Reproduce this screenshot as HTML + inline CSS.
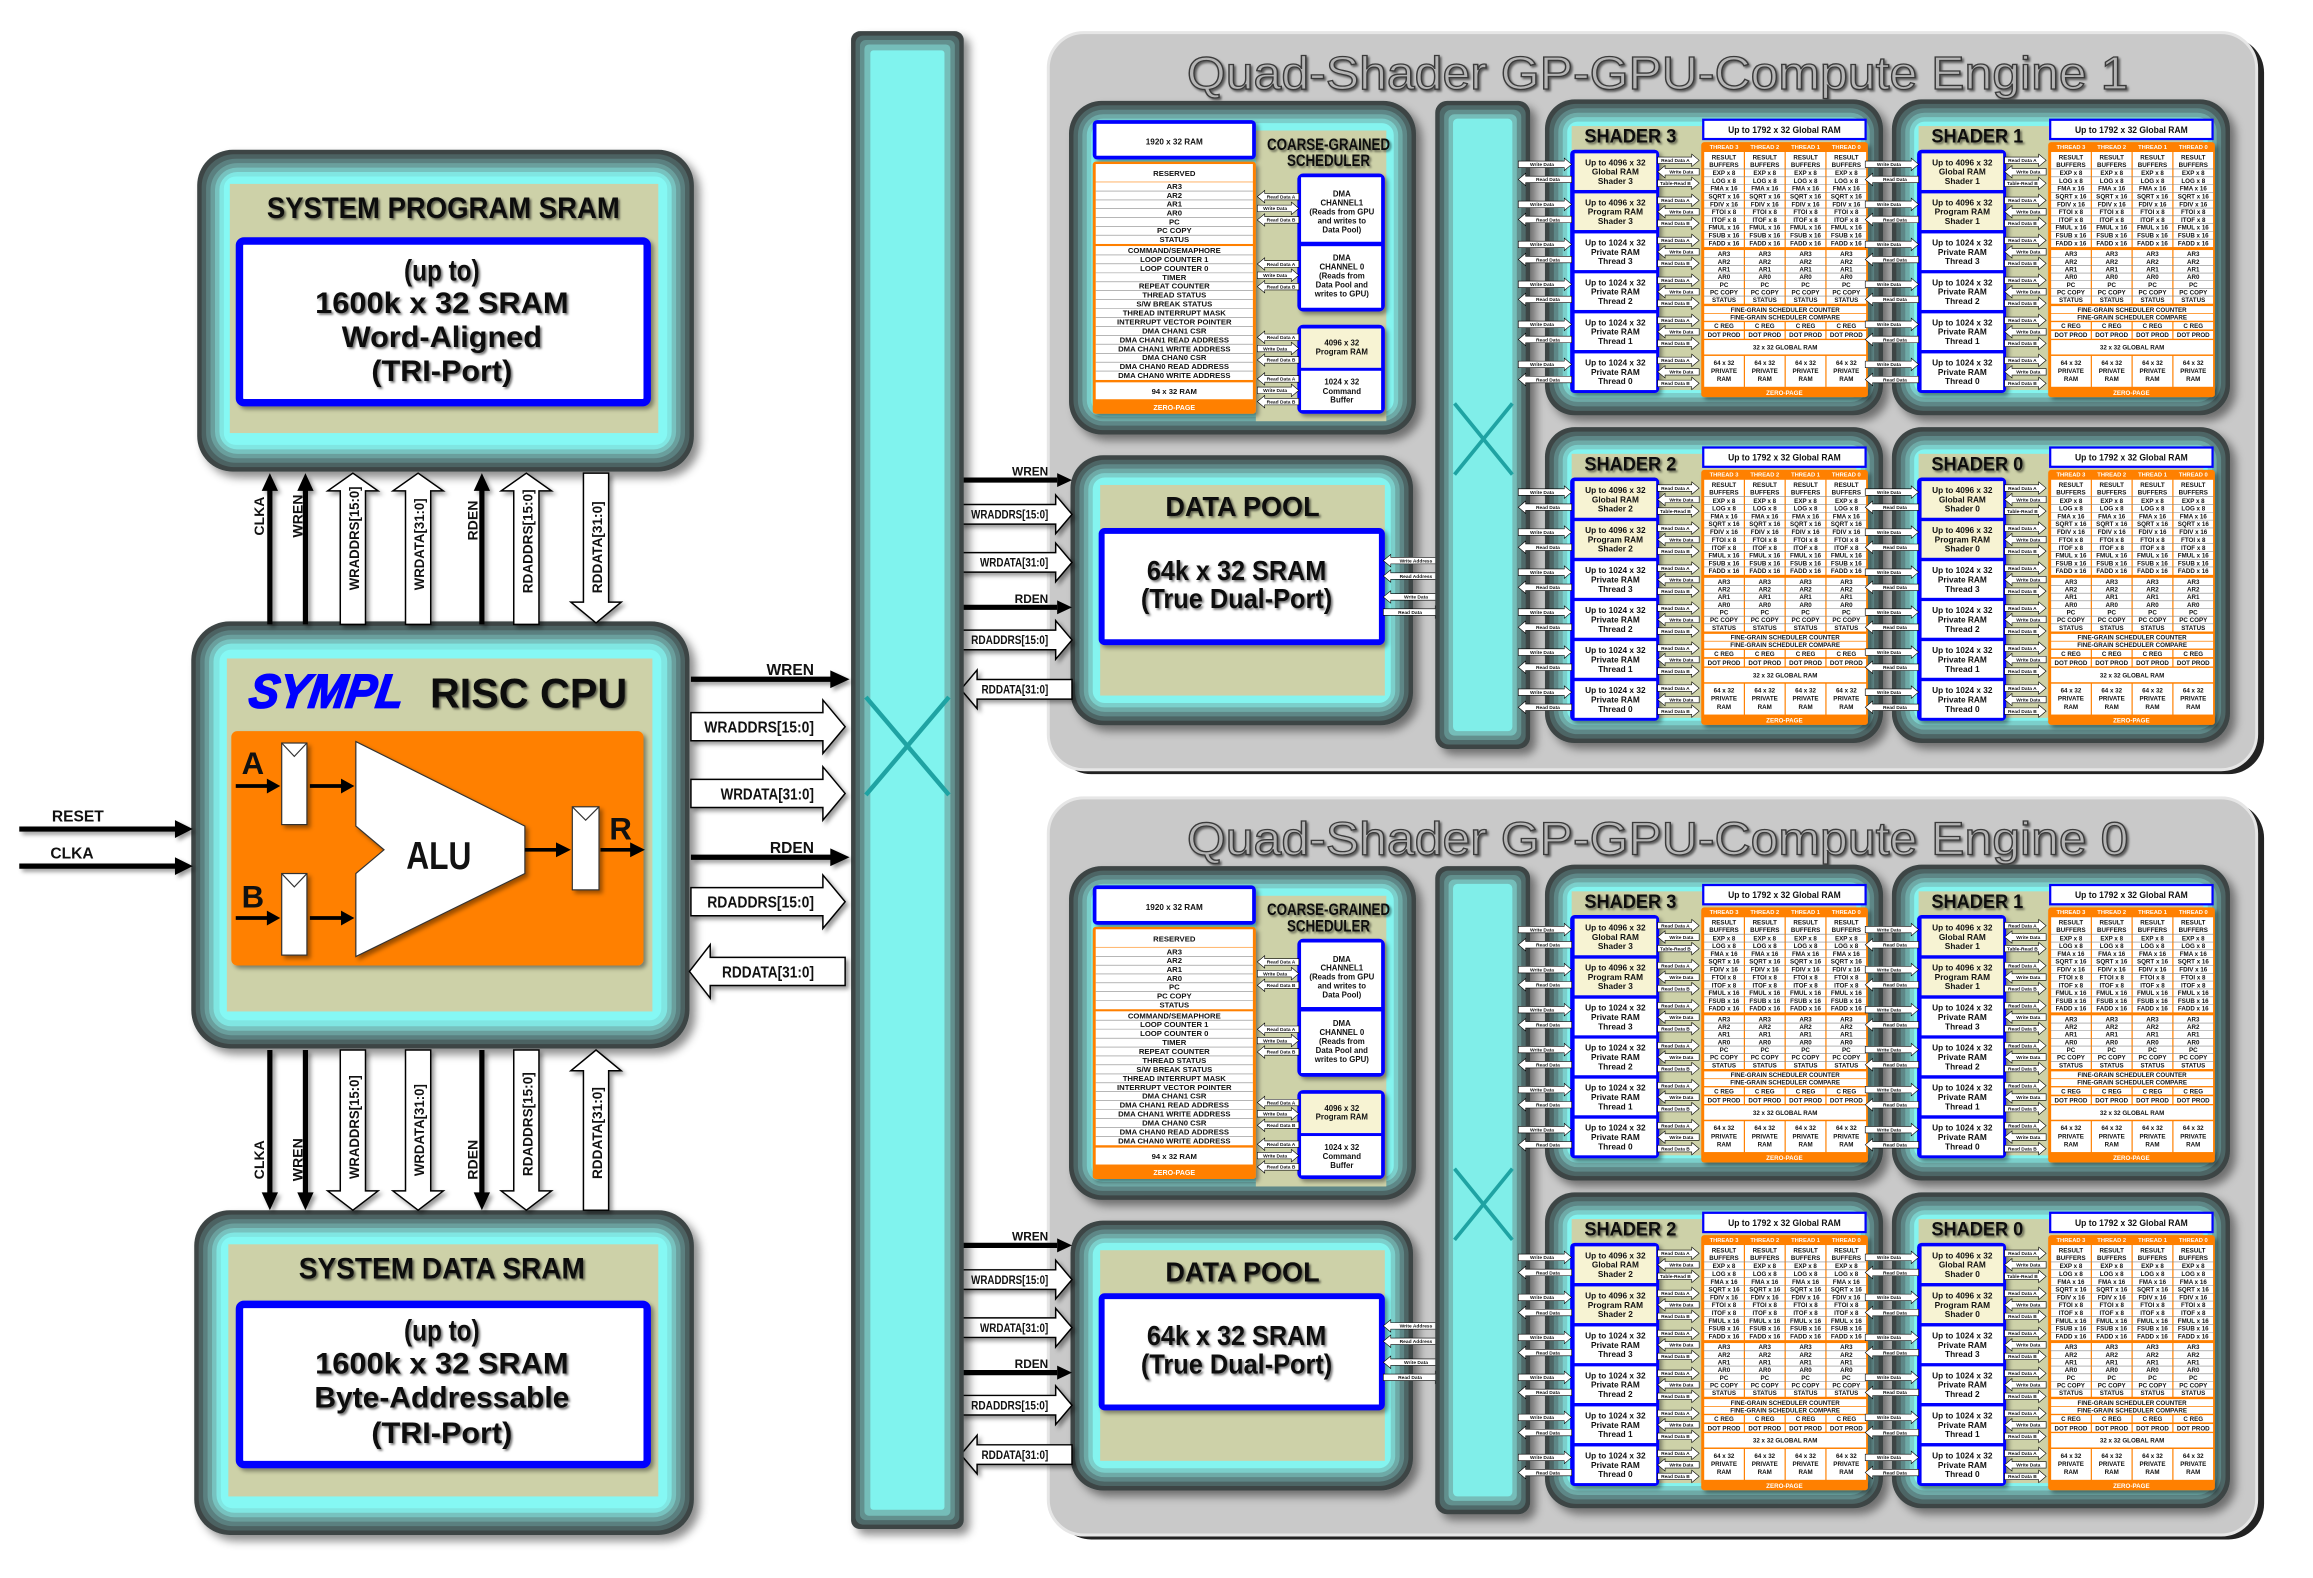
<!DOCTYPE html>
<html><head><meta charset="utf-8"><style>
html,body{margin:0;padding:0;background:#fff;}
svg{display:block}
.n{font-family:"Liberation Sans Narrow","Liberation Sans",sans-serif;font-weight:bold;fill:#111}
.s{font-family:"Liberation Sans",sans-serif;font-weight:bold;fill:#111}
.c{text-anchor:middle}
.e{text-anchor:end}
.t4{font-size:4.2px}
.aw{fill:#fff;stroke:#000;stroke-width:0.4}
.at{font-family:"Liberation Sans",sans-serif;font-weight:bold;font-size:3.3px;fill:#111;text-anchor:middle}
.hw{fill:#fff;stroke:#000;stroke-width:1}
.ln{stroke:#000;stroke-width:3.5;fill:none}
.rl{stroke:#8a8a8a;stroke-width:0.4;fill:none}
</style></head><body>
<svg xmlns="http://www.w3.org/2000/svg" xmlns:xlink="http://www.w3.org/1999/xlink" width="2313" height="1578" viewBox="0 0 1560 1064" preserveAspectRatio="none">
<defs>
<filter id="sh" x="-10%" y="-10%" width="130%" height="130%"><feDropShadow dx="4" dy="4" stdDeviation="3" flood-color="#000" flood-opacity="0.45"/></filter>
<filter id="ts" x="-10%" y="-30%" width="130%" height="160%"><feDropShadow dx="1.2" dy="1.2" stdDeviation="0.8" flood-color="#000" flood-opacity="0.55"/></filter>
<filter id="as" x="-10%" y="-30%" width="130%" height="160%"><feDropShadow dx="2" dy="2" stdDeviation="1.5" flood-color="#000" flood-opacity="0.4"/></filter>

<path id="pR28" class="aw" d="M0,-2.2H23V-4.2L28,0L23,4.2V2.2H0Z"/>
<path id="pL28" class="aw" d="M28,-2.2H5V-4.2L0,0L5,4.2V2.2H28Z"/>
<path id="pR36" class="aw" d="M0,-2.2H31V-4.2L36,0L31,4.2V2.2H0Z"/>
<path id="pL36" class="aw" d="M36,-2.2H5V-4.2L0,0L5,4.2V2.2H36Z"/>
<path id="pR40" class="aw" d="M0,-2.2H35V-4.2L40,0L35,4.2V2.2H0Z"/>
<path id="pL40" class="aw" d="M40,-2.2H5V-4.2L0,0L5,4.2V2.2H40Z"/>

<g id="R28_RDA"><use xlink:href="#pR28"/><text class="at" x="12" y="1.2">Read Data A</text></g>
<g id="R28_RDB"><use xlink:href="#pR28"/><text class="at" x="12" y="1.2">Read Data B</text></g>
<g id="R28_TRB"><use xlink:href="#pR28"/><text class="at" x="12" y="1.2">Table-Read B</text></g>
<g id="L28_WD"><use xlink:href="#pL28"/><text class="at" x="16" y="1.2">Write Data</text></g>
<g id="L28_RDA"><use xlink:href="#pL28"/><text class="at" x="16" y="1.2">Read Data A</text></g>
<g id="L28_RDB"><use xlink:href="#pL28"/><text class="at" x="16" y="1.2">Read Data B</text></g>
<g id="R28_WD"><use xlink:href="#pR28"/><text class="at" x="12" y="1.2">Write Data</text></g>
<g id="R36_WD"><use xlink:href="#pR36"/><text class="at" x="16" y="1.2">Write Data</text></g>
<g id="L36_RD"><use xlink:href="#pL36"/><text class="at" x="20" y="1.2">Read Data</text></g>
<g id="R40_WA"><use xlink:href="#pR40"/><text class="at" x="18" y="1.2">Write Address</text></g>
<g id="R40_RA"><use xlink:href="#pR40"/><text class="at" x="18" y="1.2">Read Address</text></g>
<g id="R40_WD"><use xlink:href="#pR40"/><text class="at" x="18" y="1.2">Write Data</text></g>
<g id="R40_RD"><use xlink:href="#pR40"/><text class="at" x="18" y="1.2">Read Data</text></g>
<g id="L40_RD"><use xlink:href="#pL40"/><text class="at" x="22" y="1.2">Read Data</text></g>
<g id="L40_WD"><use xlink:href="#pL40"/><text class="at" x="22" y="1.2">Write Data</text></g>
<g id="L40_WA"><use xlink:href="#pL40"/><text class="at" x="22" y="1.2">Write Address</text></g>
<g id="L40_RA"><use xlink:href="#pL40"/><text class="at" x="22" y="1.2">Read Address</text></g>

<g id="shader">
<rect x="0" y="0" width="228" height="213" rx="20" fill="#3c4545" filter="url(#sh)"/>
<rect x="3" y="3" width="222" height="207" rx="18" fill="#4d6565"/>
<rect x="6" y="6" width="216" height="201" rx="16" fill="#5e8787"/>
<rect x="9" y="9" width="210" height="195" rx="13" fill="#6eaaa7"/>
<rect x="12" y="12" width="204" height="189" rx="10" fill="#7bcfcb"/>
<rect x="15" y="15" width="198" height="183" rx="7" fill="#84f4ef"/>
<rect x="18" y="18" width="192" height="178" fill="#cdd1a8"/>
<rect x="17" y="34" width="60" height="164" rx="3" fill="#0000ff" filter="url(#as)"/>
<rect x="20" y="36.4" width="55" height="24.7" fill="#f7f3d3"/>
<rect x="20" y="63.4" width="55" height="24.7" fill="#f7f3d3"/>
<rect x="20" y="90.4" width="55" height="24.7" fill="#fff"/>
<rect x="20" y="117.3" width="55" height="24.7" fill="#fff"/>
<rect x="20" y="144.3" width="55" height="24.7" fill="#fff"/>
<rect x="20" y="171.3" width="55" height="24.7" fill="#fff"/>
<g class="n c" font-size="5.6">
<text x="47.5" y="44.5">Up to 4096 x 32</text><text x="47.5" y="50.8">Global RAM</text>
<text x="47.5" y="71.5">Up to 4096 x 32</text><text x="47.5" y="77.8">Program RAM</text>
<text x="47.5" y="98.5">Up to 1024 x 32</text><text x="47.5" y="104.8">Private RAM</text><text x="47.5" y="111.1">Thread 3</text>
<text x="47.5" y="125.4">Up to 1024 x 32</text><text x="47.5" y="131.7">Private RAM</text><text x="47.5" y="138">Thread 2</text>
<text x="47.5" y="152.4">Up to 1024 x 32</text><text x="47.5" y="158.7">Private RAM</text><text x="47.5" y="165">Thread 1</text>
<text x="47.5" y="179.4">Up to 1024 x 32</text><text x="47.5" y="185.7">Private RAM</text><text x="47.5" y="192">Thread 0</text>
</g>
<use xlink:href="#R28_RDA" x="76" y="41.1"/><use xlink:href="#L28_WD" x="76" y="48.8"/><use xlink:href="#R28_TRB" x="76" y="56.6"/>
<use xlink:href="#R28_RDA" x="76" y="68.1"/><use xlink:href="#L28_WD" x="76" y="75.8"/><use xlink:href="#R28_RDB" x="76" y="83.6"/>
<use xlink:href="#R28_RDA" x="76" y="95.1"/><use xlink:href="#L28_WD" x="76" y="102.8"/><use xlink:href="#R28_RDB" x="76" y="110.6"/>
<use xlink:href="#R28_RDA" x="76" y="122"/><use xlink:href="#L28_WD" x="76" y="129.7"/><use xlink:href="#R28_RDB" x="76" y="137.5"/>
<use xlink:href="#R28_RDA" x="76" y="149"/><use xlink:href="#L28_WD" x="76" y="156.7"/><use xlink:href="#R28_RDB" x="76" y="164.5"/>
<use xlink:href="#R28_RDA" x="76" y="176"/><use xlink:href="#L28_WD" x="76" y="183.7"/><use xlink:href="#R28_RDB" x="76" y="191.5"/>
<use xlink:href="#R36_WD" x="-18" y="43.8"/><use xlink:href="#L36_RD" x="-18" y="54"/>
<use xlink:href="#R36_WD" x="-18" y="70.8"/><use xlink:href="#L36_RD" x="-18" y="81"/>
<use xlink:href="#R36_WD" x="-18" y="97.8"/><use xlink:href="#L36_RD" x="-18" y="108"/>
<use xlink:href="#R36_WD" x="-18" y="124.7"/><use xlink:href="#L36_RD" x="-18" y="134.9"/>
<use xlink:href="#R36_WD" x="-18" y="151.7"/><use xlink:href="#L36_RD" x="-18" y="161.9"/>
<use xlink:href="#R36_WD" x="-18" y="178.7"/><use xlink:href="#L36_RD" x="-18" y="188.9"/>
<rect x="106" y="13" width="111" height="14.5" fill="#0000ff"/>
<rect x="107.5" y="14.5" width="108" height="11.5" fill="#fff"/>
<text class="n c" x="161.5" y="22.6" font-size="6" textLength="76" lengthAdjust="spacingAndGlyphs">Up to 1792 x 32 Global RAM</text>
<rect x="105.4" y="28.8" width="112.4" height="172" rx="2" fill="#ff8000" filter="url(#as)"/>
<text class="s c" y="33.4" font-size="3.9" style="fill:#fff"><tspan x="120.75">THREAD 3</tspan><tspan x="148.25">THREAD 2</tspan><tspan x="175.75">THREAD 1</tspan><tspan x="203.25">THREAD 0</tspan></text>
<g fill="#fff">
<rect x="107.4" y="35.5" width="26.7" height="64.1"/><rect x="134.9" y="35.5" width="26.7" height="64.1"/><rect x="162.4" y="35.5" width="26.7" height="64.1"/><rect x="189.9" y="35.5" width="26.7" height="64.1"/>
<rect x="107.4" y="101.6" width="26.7" height="36.2"/><rect x="134.9" y="101.6" width="26.7" height="36.2"/><rect x="162.4" y="101.6" width="26.7" height="36.2"/><rect x="189.9" y="101.6" width="26.7" height="36.2"/>
<rect x="107.4" y="139.4" width="109.2" height="4.7"/><rect x="107.4" y="144.6" width="109.2" height="4.7"/>
<rect x="107.4" y="150.2" width="26.7" height="4.9"/><rect x="134.9" y="150.2" width="26.7" height="4.9"/><rect x="162.4" y="150.2" width="26.7" height="4.9"/><rect x="189.9" y="150.2" width="26.7" height="4.9"/>
<rect x="107.4" y="156.2" width="26.7" height="5.2"/><rect x="134.9" y="156.2" width="26.7" height="5.2"/><rect x="162.4" y="156.2" width="26.7" height="5.2"/><rect x="189.9" y="156.2" width="26.7" height="5.2"/>
<rect x="107.4" y="162.3" width="109.2" height="9.7"/>
<rect x="107.4" y="173" width="26.7" height="20.8"/><rect x="134.9" y="173" width="26.7" height="20.8"/><rect x="162.4" y="173" width="26.7" height="20.8"/><rect x="189.9" y="173" width="26.7" height="20.8"/>
</g>
<path class="rl" d="M107 46.9H217M107 52.2H217M107 57.4H217M107 62.7H217M107 68H217M107 73.3H217M107 78.5H217M107 83.8H217M107 89.1H217M107 94.3H217M107 106.8H217M107 112H217M107 117.1H217M107 122.3H217M107 127.5H217M107 132.6H217"/>
<g class="s c t4">
<text y="40.5"><tspan x="120.75">RESULT</tspan><tspan x="148.25">RESULT</tspan><tspan x="175.75">RESULT</tspan><tspan x="203.25">RESULT</tspan></text>
<text y="45.5"><tspan x="120.75">BUFFERS</tspan><tspan x="148.25">BUFFERS</tspan><tspan x="175.75">BUFFERS</tspan><tspan x="203.25">BUFFERS</tspan></text>
<text y="51"><tspan x="120.75">EXP x 8</tspan><tspan x="148.25">EXP x 8</tspan><tspan x="175.75">EXP x 8</tspan><tspan x="203.25">EXP x 8</tspan></text>
<text y="56.3"><tspan x="120.75">LOG x 8</tspan><tspan x="148.25">LOG x 8</tspan><tspan x="175.75">LOG x 8</tspan><tspan x="203.25">LOG x 8</tspan></text>
<text y="61.6"><tspan x="120.75">FMA x 16</tspan><tspan x="148.25">FMA x 16</tspan><tspan x="175.75">FMA x 16</tspan><tspan x="203.25">FMA x 16</tspan></text>
<text y="66.8"><tspan x="120.75">SQRT x 16</tspan><tspan x="148.25">SQRT x 16</tspan><tspan x="175.75">SQRT x 16</tspan><tspan x="203.25">SQRT x 16</tspan></text>
<text y="72.1"><tspan x="120.75">FDIV x 16</tspan><tspan x="148.25">FDIV x 16</tspan><tspan x="175.75">FDIV x 16</tspan><tspan x="203.25">FDIV x 16</tspan></text>
<text y="77.4"><tspan x="120.75">FTOI x 8</tspan><tspan x="148.25">FTOI x 8</tspan><tspan x="175.75">FTOI x 8</tspan><tspan x="203.25">FTOI x 8</tspan></text>
<text y="82.7"><tspan x="120.75">ITOF x 8</tspan><tspan x="148.25">ITOF x 8</tspan><tspan x="175.75">ITOF x 8</tspan><tspan x="203.25">ITOF x 8</tspan></text>
<text y="87.9"><tspan x="120.75">FMUL x 16</tspan><tspan x="148.25">FMUL x 16</tspan><tspan x="175.75">FMUL x 16</tspan><tspan x="203.25">FMUL x 16</tspan></text>
<text y="93.2"><tspan x="120.75">FSUB x 16</tspan><tspan x="148.25">FSUB x 16</tspan><tspan x="175.75">FSUB x 16</tspan><tspan x="203.25">FSUB x 16</tspan></text>
<text y="98.5"><tspan x="120.75">FADD x 16</tspan><tspan x="148.25">FADD x 16</tspan><tspan x="175.75">FADD x 16</tspan><tspan x="203.25">FADD x 16</tspan></text>
<text y="105.7"><tspan x="120.75">AR3</tspan><tspan x="148.25">AR3</tspan><tspan x="175.75">AR3</tspan><tspan x="203.25">AR3</tspan></text>
<text y="110.9"><tspan x="120.75">AR2</tspan><tspan x="148.25">AR2</tspan><tspan x="175.75">AR2</tspan><tspan x="203.25">AR2</tspan></text>
<text y="116"><tspan x="120.75">AR1</tspan><tspan x="148.25">AR1</tspan><tspan x="175.75">AR1</tspan><tspan x="203.25">AR1</tspan></text>
<text y="121.2"><tspan x="120.75">AR0</tspan><tspan x="148.25">AR0</tspan><tspan x="175.75">AR0</tspan><tspan x="203.25">AR0</tspan></text>
<text y="126.4"><tspan x="120.75">PC</tspan><tspan x="148.25">PC</tspan><tspan x="175.75">PC</tspan><tspan x="203.25">PC</tspan></text>
<text y="131.5"><tspan x="120.75">PC COPY</tspan><tspan x="148.25">PC COPY</tspan><tspan x="175.75">PC COPY</tspan><tspan x="203.25">PC COPY</tspan></text>
<text y="136.7"><tspan x="120.75">STATUS</tspan><tspan x="148.25">STATUS</tspan><tspan x="175.75">STATUS</tspan><tspan x="203.25">STATUS</tspan></text>
<text x="162" y="143.3">FINE-GRAIN SCHEDULER COUNTER</text>
<text x="162" y="148.4">FINE-GRAIN SCHEDULER COMPARE</text>
<text y="154.3"><tspan x="120.75">C REG</tspan><tspan x="148.25">C REG</tspan><tspan x="175.75">C REG</tspan><tspan x="203.25">C REG</tspan></text>
<text y="160.4"><tspan x="120.75">DOT PROD</tspan><tspan x="148.25">DOT PROD</tspan><tspan x="175.75">DOT PROD</tspan><tspan x="203.25">DOT PROD</tspan></text>
<text x="162" y="168.8">32 x 32 GLOBAL RAM</text>
<text y="179"><tspan x="120.75">64 x 32</tspan><tspan x="148.25">64 x 32</tspan><tspan x="175.75">64 x 32</tspan><tspan x="203.25">64 x 32</tspan></text>
<text y="184.5"><tspan x="120.75">PRIVATE</tspan><tspan x="148.25">PRIVATE</tspan><tspan x="175.75">PRIVATE</tspan><tspan x="203.25">PRIVATE</tspan></text>
<text y="190"><tspan x="120.75">RAM</tspan><tspan x="148.25">RAM</tspan><tspan x="175.75">RAM</tspan><tspan x="203.25">RAM</tspan></text>
</g>
<text class="s c" x="161.5" y="199.3" font-size="4.2" style="fill:#fff">ZERO-PAGE</text>
</g>

<g id="eng">
<rect x="721" y="68" width="234" height="225" rx="22" fill="#3c4545" filter="url(#sh)"/>
<rect x="724" y="71" width="228" height="219" rx="20" fill="#4d6565"/>
<rect x="727" y="74" width="222" height="213" rx="17" fill="#5e8787"/>
<rect x="730" y="77" width="216" height="207" rx="14" fill="#6eaaa7"/>
<rect x="733" y="80" width="210" height="201" rx="11" fill="#7bcfcb"/>
<rect x="736" y="83" width="204" height="195" rx="8" fill="#84f4ef"/>
<rect x="847" y="88" width="88" height="196" fill="#cdd1a8"/>
<rect x="737" y="81" width="110" height="26.5" rx="3" fill="#0000ff" filter="url(#as)"/>
<rect x="739.5" y="83.5" width="105" height="21.5" fill="#fff"/>
<text class="s c" x="792" y="97.5" font-size="5.5">1920 x 32 RAM</text>
<rect x="737" y="109" width="110" height="170" rx="2" fill="#ff8000" filter="url(#as)"/>
<g fill="#fff">
<rect x="739" y="110.6" width="106" height="11.9"/>
<rect x="739" y="122.9" width="106" height="41.6"/>
<rect x="739" y="165.9" width="106" height="90.3"/>
<rect x="739" y="257.8" width="106" height="11.4"/>
</g>
<path class="rl" d="M739 128.8H845M739 134.8H845M739 140.7H845M739 146.7H845M739 152.6H845M739 158.6H845M739 171.9H845M739 177.9H845M739 184H845M739 190H845M739 196H845M739 202H845M739 208.1H845M739 214.1H845M739 220.1H845M739 226.1H845M739 232.1H845M739 238.2H845M739 244.2H845M739 250.2H845"/>
<g class="s c" font-size="5.2">
<text x="792" y="118.8">RESERVED</text>
<text x="792" y="127.5">AR3</text><text x="792" y="133.4">AR2</text><text x="792" y="139.4">AR1</text><text x="792" y="145.3">AR0</text><text x="792" y="151.3">PC</text><text x="792" y="157.2">PC COPY</text><text x="792" y="163.2">STATUS</text>
<text x="792" y="170.6">COMMAND/SEMAPHORE</text><text x="792" y="176.6">LOOP COUNTER 1</text><text x="792" y="182.6">LOOP COUNTER 0</text><text x="792" y="188.7">TIMER</text><text x="792" y="194.7">REPEAT COUNTER</text><text x="792" y="200.7">THREAD STATUS</text><text x="792" y="206.7">S/W BREAK STATUS</text><text x="792" y="212.8">THREAD INTERRUPT MASK</text><text x="792" y="218.8">INTERRUPT VECTOR POINTER</text><text x="792" y="224.8">DMA CHAN1 CSR</text><text x="792" y="230.8">DMA CHAN1 READ ADDRESS</text><text x="792" y="236.9">DMA CHAN1 WRITE ADDRESS</text><text x="792" y="242.9">DMA CHAN0 CSR</text><text x="792" y="248.9">DMA CHAN0 READ ADDRESS</text><text x="792" y="254.9">DMA CHAN0 WRITE ADDRESS</text>
<text x="792" y="265.5">94 x 32 RAM</text>
</g>
<text class="s c" x="792" y="276.3" font-size="4.8" style="fill:#fff">ZERO-PAGE</text>
<text class="n c" x="896" y="101" font-size="11" textLength="83" lengthAdjust="spacingAndGlyphs" filter="url(#ts)">COARSE-GRAINED</text>
<text class="n c" x="896" y="112" font-size="11" textLength="56" lengthAdjust="spacingAndGlyphs" filter="url(#ts)">SCHEDULER</text>
<rect x="875" y="117" width="59" height="93" rx="4" fill="#0000ff" filter="url(#as)"/>
<rect x="877.5" y="119.5" width="54" height="43.5" fill="#fff"/>
<rect x="877.5" y="166" width="54" height="41.5" fill="#fff"/>
<rect x="875" y="219" width="59" height="60" rx="4" fill="#0000ff" filter="url(#as)"/>
<rect x="877.5" y="221.5" width="54" height="26.5" fill="#f7f3d3"/>
<rect x="877.5" y="250" width="54" height="26.5" fill="#fff"/>
<g class="s c" font-size="5.3">
<text x="905" y="132.5">DMA</text><text x="905" y="138.5">CHANNEL1</text><text x="905" y="144.6">(Reads from GPU</text><text x="905" y="150.6">and writes to</text><text x="905" y="156.7">Data Pool)</text>
<text x="905" y="175.8">DMA</text><text x="905" y="181.8">CHANNEL 0</text><text x="905" y="187.9">(Reads from</text><text x="905" y="193.9">Data Pool and</text><text x="905" y="200">writes to GPU)</text>
<text x="905" y="233">4096 x 32</text><text x="905" y="239">Program RAM</text>
<text x="905" y="259.4">1024 x 32</text><text x="905" y="265.5">Command</text><text x="905" y="271.5">Buffer</text>
</g>
<use xlink:href="#L28_RDA" x="848" y="132.6"/><use xlink:href="#R28_WD" x="848" y="140.5"/><use xlink:href="#L28_RDB" x="848" y="148.3"/>
<use xlink:href="#L28_RDA" x="848" y="178"/><use xlink:href="#R28_WD" x="848" y="185.6"/><use xlink:href="#L28_RDB" x="848" y="193.3"/>
<use xlink:href="#L28_RDA" x="848" y="227.4"/><use xlink:href="#R28_WD" x="848" y="235"/><use xlink:href="#L28_RDB" x="848" y="242.7"/>
<use xlink:href="#L28_RDA" x="848" y="255.5"/><use xlink:href="#R28_WD" x="848" y="263.2"/><use xlink:href="#L28_RDB" x="848" y="270.8"/>

<rect x="722" y="307" width="231" height="182" rx="22" fill="#3c4545" filter="url(#sh)"/>
<rect x="725" y="310" width="225" height="176" rx="20" fill="#4d6565"/>
<rect x="728" y="313" width="219" height="170" rx="17" fill="#5e8787"/>
<rect x="731" y="316" width="213" height="164" rx="14" fill="#6eaaa7"/>
<rect x="734" y="319" width="207" height="158" rx="11" fill="#7bcfcb"/>
<rect x="737" y="322" width="201" height="152" rx="8" fill="#84f4ef"/>
<rect x="742" y="327" width="192" height="142" fill="#cdd1a8"/>
<text class="n c" x="838" y="348" font-size="19" textLength="104" lengthAdjust="spacingAndGlyphs" filter="url(#ts)">DATA POOL</text>
<rect x="743" y="358" width="189" height="75" rx="2" fill="#fff" stroke="#0000ff" stroke-width="4" filter="url(#as)"/>
<text class="n c" x="834" y="391" font-size="19" textLength="121" lengthAdjust="spacingAndGlyphs" filter="url(#ts)">64k x 32 SRAM</text>
<text class="n c" x="834" y="410" font-size="19" textLength="129" lengthAdjust="spacingAndGlyphs" filter="url(#ts)">(True Dual-Port)</text>
<use xlink:href="#L40_WA" x="933" y="378"/><use xlink:href="#L40_RA" x="933" y="388.4"/><use xlink:href="#L40_WD" x="933" y="402.5"/><use xlink:href="#R40_RD" x="933" y="412.7"/>

<path class="ln" d="M649 323.7H713" stroke-width="3"/><polygon points="713,319 723,323.7 713,328.4"/>
<text class="n e" x="707" y="320.5" font-size="8">WREN</text>
<path class="hw" filter="url(#as)" d="M648,340.2H712V333.8L723,346.8L712,359.8V353.4H648Z"/>
<text class="n e" x="707" y="349.7" font-size="8" textLength="52" lengthAdjust="spacingAndGlyphs">WRADDRS[15:0]</text>
<path class="hw" filter="url(#as)" d="M648,372.6H712V366.2L723,379.2L712,392.2V385.8H648Z"/>
<text class="n e" x="707" y="382.1" font-size="8" textLength="46" lengthAdjust="spacingAndGlyphs">WRDATA[31:0]</text>
<path class="ln" d="M649 409.5H713" stroke-width="3"/><polygon points="713,404.8 723,409.5 713,414.2"/>
<text class="n e" x="707" y="406.5" font-size="8">RDEN</text>
<path class="hw" filter="url(#as)" d="M648,424.9H712V418.5L723,431.5L712,444.5V438.1H648Z"/>
<text class="n e" x="707" y="434.4" font-size="8" textLength="52" lengthAdjust="spacingAndGlyphs">RDADDRS[15:0]</text>
<path class="hw" filter="url(#as)" d="M723,458.2H659V451.8L648,464.8L659,477.8V471.4H723Z"/>
<text class="n e" x="707" y="467.7" font-size="8" textLength="45" lengthAdjust="spacingAndGlyphs">RDDATA[31:0]</text>

<rect x="968" y="68" width="64" height="437" rx="8" fill="#3c4545" filter="url(#sh)"/>
<rect x="971" y="71" width="58" height="431" rx="6" fill="#4f6a6a"/>
<rect x="974" y="74" width="52" height="425" rx="5" fill="#62908e"/>
<rect x="977" y="77" width="46" height="419" rx="4" fill="#75bdb9"/>
<rect x="980" y="80" width="40" height="413" rx="3" fill="#80eee9"/>
<path d="M981,272L1020,320M1020,272L981,320" stroke="#1fa3a3" stroke-width="2.5"/>

<use xlink:href="#shader" transform="translate(1042,67)"/>
<use xlink:href="#shader" transform="translate(1276,67)"/>
<use xlink:href="#shader" transform="translate(1042,288)"/>
<use xlink:href="#shader" transform="translate(1276,288)"/>
<g class="n" font-size="13" filter="url(#ts)">
<text x="1068.6" y="96.2" textLength="62" lengthAdjust="spacingAndGlyphs">SHADER 3</text>
<text x="1302.6" y="96.2" textLength="62" lengthAdjust="spacingAndGlyphs">SHADER 1</text>
<text x="1068.6" y="317.2" textLength="62" lengthAdjust="spacingAndGlyphs">SHADER 2</text>
<text x="1302.6" y="317.2" textLength="62" lengthAdjust="spacingAndGlyphs">SHADER 0</text>
</g>
<g class="n c" font-size="5.6">
<text x="1089.5" y="124">Shader 3</text><text x="1089.5" y="151">Shader 3</text>
<text x="1323.5" y="124">Shader 1</text><text x="1323.5" y="151">Shader 1</text>
<text x="1089.5" y="345">Shader 2</text><text x="1089.5" y="372">Shader 2</text>
<text x="1323.5" y="345">Shader 0</text><text x="1323.5" y="372">Shader 0</text>
</g>
</g>
</defs>

<rect x="712" y="25" width="815" height="497" rx="24" fill="#222"/>
<rect x="707" y="22" width="815" height="497" rx="24" fill="#c9c9c9" stroke="#e6e6e6" stroke-width="2"/>
<rect x="712" y="541" width="815" height="497" rx="24" fill="#222"/>
<rect x="707" y="538" width="815" height="497" rx="24" fill="#c9c9c9" stroke="#e6e6e6" stroke-width="2"/>
<text x="1118" y="60" text-anchor="middle" font-family="Liberation Sans, sans-serif" font-size="31" fill="#b5b5b5" stroke="#3a3a3a" stroke-width="0.9" textLength="635" lengthAdjust="spacingAndGlyphs" filter="url(#ts)">Quad-Shader GP-GPU-Compute Engine 1</text>
<text x="1118" y="576" text-anchor="middle" font-family="Liberation Sans, sans-serif" font-size="31" fill="#b5b5b5" stroke="#3a3a3a" stroke-width="0.9" textLength="635" lengthAdjust="spacingAndGlyphs" filter="url(#ts)">Quad-Shader GP-GPU-Compute Engine 0</text>
<use xlink:href="#eng"/>
<use xlink:href="#eng" transform="translate(0,516)"/>

<rect x="574" y="21" width="76" height="1010" rx="6" fill="#3c4545" filter="url(#sh)"/>
<rect x="577" y="24" width="70" height="1004" rx="5" fill="#4f6a6a"/>
<rect x="580" y="27" width="64" height="998" rx="4" fill="#62908e"/>
<rect x="583" y="30" width="58" height="992" rx="3" fill="#75bdb9"/>
<rect x="587" y="34" width="50" height="984" rx="2" fill="#80f3ee"/>
<path d="M584,470L640,536M640,470L584,536" stroke="#1fa3a3" stroke-width="3"/>

<rect x="133" y="101" width="335" height="217" rx="24" fill="#3c4545" filter="url(#sh)"/>
<rect x="136" y="104" width="329" height="211" rx="22" fill="#4c6262"/>
<rect x="139" y="107" width="323" height="205" rx="20" fill="#5b8080"/>
<rect x="142" y="110" width="317" height="199" rx="18" fill="#6a9f9d"/>
<rect x="145" y="113" width="311" height="193" rx="15" fill="#77c2bf"/>
<rect x="148" y="116" width="305" height="187" rx="12" fill="#80e6e2"/>
<rect x="151" y="119" width="299" height="181" rx="8" fill="#85f8f4"/>
<rect x="155" y="124" width="289" height="168" fill="#cdd1a8"/>
<text class="n c" x="299" y="147" font-size="20" textLength="238" lengthAdjust="spacingAndGlyphs" filter="url(#ts)">SYSTEM PROGRAM SRAM</text>
<rect x="161.5" y="162.5" width="275" height="109" rx="3" fill="#fff" stroke="#0000ff" stroke-width="5" filter="url(#as)"/>
<g class="n c" font-size="20" filter="url(#ts)">
<text x="298" y="189" textLength="51" lengthAdjust="spacingAndGlyphs">(up to)</text>
<text x="298" y="211" textLength="171" lengthAdjust="spacingAndGlyphs">1600k x 32 SRAM</text>
<text x="298" y="234" textLength="135" lengthAdjust="spacingAndGlyphs">Word-Aligned</text>
<text x="298" y="257" textLength="95" lengthAdjust="spacingAndGlyphs">(TRI-Port)</text>
</g>

<rect x="129" y="419" width="336" height="288" rx="26" fill="#3c4545" filter="url(#sh)"/>
<rect x="132" y="422" width="330" height="282" rx="24" fill="#4c6262"/>
<rect x="135" y="425" width="324" height="276" rx="21" fill="#5b8080"/>
<rect x="138" y="428" width="318" height="270" rx="18" fill="#6a9f9d"/>
<rect x="141" y="431" width="312" height="264" rx="15" fill="#77c2bf"/>
<rect x="144" y="434" width="306" height="258" rx="12" fill="#80e6e2"/>
<rect x="148" y="438" width="298" height="250" rx="8" fill="#85f8f4"/>
<rect x="153" y="444" width="287" height="238" fill="#cdd1a8"/>
<text x="168" y="477" font-family="Liberation Sans, sans-serif" font-weight="bold" font-style="italic" font-size="32" fill="#0000ff" stroke="#0000ff" stroke-width="1.2" textLength="104" lengthAdjust="spacingAndGlyphs" transform="skewX(-8) translate(66,0)">SYMPL</text>
<text class="n" x="290" y="477" font-size="28" font-weight="normal" textLength="133" lengthAdjust="spacingAndGlyphs" filter="url(#ts)">RISC CPU</text>
<rect x="156" y="493" width="278" height="158" rx="4" fill="#ff8000" filter="url(#as)"/>
<polygon points="240,500 354,557 354,589 240,645 240,589 259,573 240,557" fill="#fff" stroke="#333" stroke-width="0.8" filter="url(#as)"/>
<text class="n c" x="296" y="586" font-size="26" textLength="44" lengthAdjust="spacingAndGlyphs">ALU</text>
<g fill="#fff" stroke="#333" stroke-width="0.8" filter="url(#as)">
<rect x="190" y="501" width="17" height="55"/><rect x="190" y="589" width="17" height="55"/><rect x="386" y="544" width="18" height="56"/>
</g>
<path d="M190,501L198.5,510L207,501M190,589L198.5,598L207,589M386,544L395,553L404,544" fill="none" stroke="#333" stroke-width="0.8"/>
<g stroke="#000" stroke-width="2.5">
<path d="M159,530H181M209,530H231M159,619H181M209,619H231M354,573H376M405,573H426"/>
</g>
<g fill="#000">
<polygon points="180,525 189,530 180,535"/><polygon points="230,525 239,530 230,535"/>
<polygon points="180,614 189,619 180,624"/><polygon points="230,614 239,619 230,624"/>
<polygon points="375,568 385,573 375,578"/><polygon points="425,568 435,573 425,578"/>
</g>
<g class="n" font-size="21">
<text x="163" y="522">A</text><text x="163" y="612">B</text><text x="411" y="566">R</text>
</g>

<rect x="131" y="816" width="337" height="219" rx="24" fill="#3c4545" filter="url(#sh)"/>
<rect x="134" y="819" width="331" height="213" rx="22" fill="#4c6262"/>
<rect x="137" y="822" width="325" height="207" rx="20" fill="#5b8080"/>
<rect x="140" y="825" width="319" height="201" rx="18" fill="#6a9f9d"/>
<rect x="143" y="828" width="313" height="195" rx="15" fill="#77c2bf"/>
<rect x="146" y="831" width="307" height="189" rx="12" fill="#80e6e2"/>
<rect x="149" y="834" width="301" height="183" rx="8" fill="#85f8f4"/>
<rect x="154" y="839" width="290" height="170" fill="#cdd1a8"/>
<text class="n c" x="298" y="862" font-size="20" textLength="193" lengthAdjust="spacingAndGlyphs" filter="url(#ts)">SYSTEM DATA SRAM</text>
<rect x="161.5" y="879.5" width="275" height="108" rx="3" fill="#fff" stroke="#0000ff" stroke-width="5" filter="url(#as)"/>
<g class="n c" font-size="20" filter="url(#ts)">
<text x="298" y="904" textLength="51" lengthAdjust="spacingAndGlyphs">(up to)</text>
<text x="298" y="926" textLength="171" lengthAdjust="spacingAndGlyphs">1600k x 32 SRAM</text>
<text x="298" y="949" textLength="172" lengthAdjust="spacingAndGlyphs">Byte-Addressable</text>
<text x="298" y="973" textLength="95" lengthAdjust="spacingAndGlyphs">(TRI-Port)</text>
</g>

<g filter="url(#as)">
<path class="ln" d="M182,421V330M206,421V330M325,421V330"/>
<polygon points="176.5,331 182,319 187.5,331"/><polygon points="200.5,331 206,319 211.5,331"/><polygon points="319.5,331 325,319 330.5,331"/>
<path class="hw" d="M229.5,421V331H221L238,319L255,331H246.5V421Z"/>
<path class="hw" d="M273.5,421V331H265L282,319L299,331H290.5V421Z"/>
<path class="hw" d="M346.5,421V331H338L355,319L372,331H363.5V421Z"/>
<path class="hw" d="M393.5,319V406H385L402,420L419,406H410.5V319Z"/>
</g>
<g class="s c" font-size="9.5">
<text transform="translate(178,348) rotate(-90)">CLKA</text>
<text transform="translate(204,348) rotate(-90)">WREN</text>
<text transform="translate(242,363) rotate(-90)" textLength="70" lengthAdjust="spacingAndGlyphs">WRADDRS[15:0]</text>
<text transform="translate(286,367) rotate(-90)" textLength="62" lengthAdjust="spacingAndGlyphs">WRDATA[31:0]</text>
<text transform="translate(322,351) rotate(-90)">RDEN</text>
<text transform="translate(359,365) rotate(-90)" textLength="70" lengthAdjust="spacingAndGlyphs">RDADDRS[15:0]</text>
<text transform="translate(406,369) rotate(-90)" textLength="62" lengthAdjust="spacingAndGlyphs">RDDATA[31:0]</text>
</g>

<g filter="url(#as)">
<path class="ln" d="M182,708V805M206,708V805M325,708V805"/>
<polygon points="176.5,804 182,816 187.5,804"/><polygon points="200.5,804 206,816 211.5,804"/><polygon points="319.5,804 325,816 330.5,804"/>
<path class="hw" d="M229.5,708V803H221L238,816L255,803H246.5V708Z"/>
<path class="hw" d="M273.5,708V803H265L282,816L299,803H290.5V708Z"/>
<path class="hw" d="M346.5,708V803H338L355,816L372,803H363.5V708Z"/>
<path class="hw" d="M393.5,816V722H385L402,708L419,722H410.5V816Z"/>
</g>
<g class="s c" font-size="9.5">
<text transform="translate(178,782) rotate(-90)">CLKA</text>
<text transform="translate(204,782) rotate(-90)">WREN</text>
<text transform="translate(242,760) rotate(-90)" textLength="70" lengthAdjust="spacingAndGlyphs">WRADDRS[15:0]</text>
<text transform="translate(286,762) rotate(-90)" textLength="62" lengthAdjust="spacingAndGlyphs">WRDATA[31:0]</text>
<text transform="translate(322,782) rotate(-90)">RDEN</text>
<text transform="translate(359,758) rotate(-90)" textLength="70" lengthAdjust="spacingAndGlyphs">RDADDRS[15:0]</text>
<text transform="translate(406,764) rotate(-90)" textLength="62" lengthAdjust="spacingAndGlyphs">RDDATA[31:0]</text>
</g>

<g filter="url(#as)">
<path class="ln" d="M466,458H561M466,578H561M13,559H119M13,584H119"/>
<polygon points="560,452 573,458 560,464"/><polygon points="560,572 573,578 560,584"/>
<polygon points="118,553 130,559 118,565"/><polygon points="118,578 130,584 118,590"/>
<path class="hw" d="M466,480.5H555V472L570,490L555,508V499.5H466Z"/>
<path class="hw" d="M466,525.5H555V517L570,535L555,553V544.5H466Z"/>
<path class="hw" d="M466,598.5H555V590L570,608L555,626V617.5H466Z"/>
<path class="hw" d="M570,645.5H479V637L465,655L479,673V664.5H570Z"/>
</g>
<g class="n" font-size="10.5">
<text class="e" x="549" y="455">WREN</text>
<text class="e" x="549" y="494" textLength="74" lengthAdjust="spacingAndGlyphs">WRADDRS[15:0]</text>
<text class="e" x="549" y="539" textLength="63" lengthAdjust="spacingAndGlyphs">WRDATA[31:0]</text>
<text class="e" x="549" y="575">RDEN</text>
<text class="e" x="549" y="612" textLength="72" lengthAdjust="spacingAndGlyphs">RDADDRS[15:0]</text>
<text class="e" x="549" y="659" textLength="62" lengthAdjust="spacingAndGlyphs">RDDATA[31:0]</text>
<text x="35" y="554">RESET</text>
<text x="34" y="579">CLKA</text>
</g>
</svg>
</body></html>
